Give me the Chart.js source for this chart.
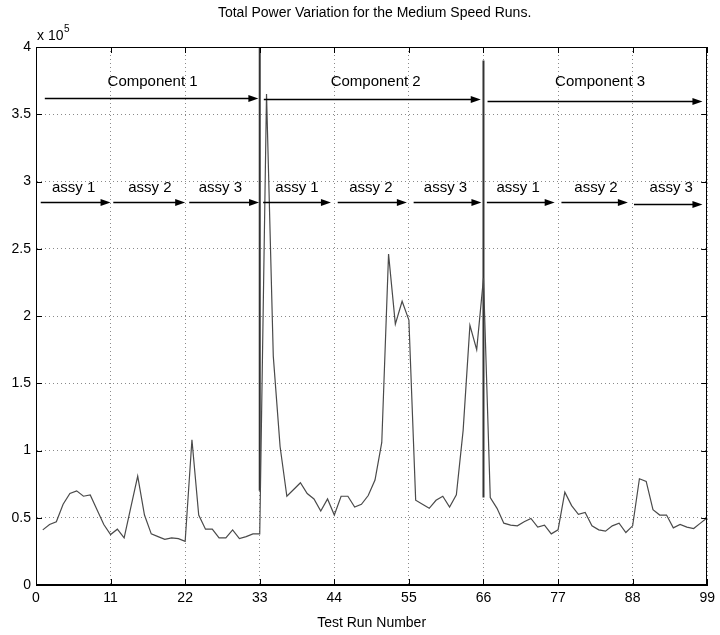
<!DOCTYPE html>
<html>
<head>
<meta charset="utf-8">
<title>Total Power Variation</title>
<script src="https://cdn.jsdelivr.net/npm/chart.js@4.4.1/dist/chart.umd.min.js"></script>
<style>
  html, body { margin: 0; padding: 0; background: #fff; }
</style>
</head>
<body>
<canvas id="powerChart" width="720" height="635"></canvas>
<script>
// total power for runs 1..99, in units of 10^5
const totalPower = [
  0.41, 0.45, 0.47, 0.60, 0.68, 0.70, 0.66, 0.67, 0.56, 0.45,
  0.375, 0.415, 0.35, 0.58, 0.81, 0.52, 0.38, 0.36, 0.34, 0.35,
  0.345, 0.325, 1.08, 0.52, 0.415, 0.415, 0.35, 0.35, 0.41, 0.345,
  0.36, 0.38, 0.38, 3.65, 1.70, 1.03, 0.66, 0.71, 0.76, 0.68,
  0.64, 0.55, 0.64, 0.52, 0.66, 0.66, 0.58, 0.60, 0.665, 0.78,
  1.06, 2.46, 1.94, 2.11, 1.97, 0.63, 0.60, 0.57, 0.63, 0.66,
  0.58, 0.67, 1.15, 1.93, 1.75, 2.28, 0.65, 0.57, 0.46, 0.445,
  0.44, 0.47, 0.495, 0.43, 0.445, 0.38, 0.41, 0.69, 0.59, 0.525,
  0.54, 0.44, 0.41, 0.40, 0.44, 0.46, 0.39, 0.44, 0.79, 0.77,
  0.56, 0.52, 0.52, 0.425, 0.45, 0.43, 0.42, 0.46, 0.50
];

const xTicks = [0, 11, 22, 33, 44, 55, 66, 77, 88, 99];
const yTicks = [0, 0.5, 1, 1.5, 2, 2.5, 3, 3.5, 4];

// vertical component separators
const separatorRuns = [33, 66];
const separatorLow = [0.7, 0.65];
const separatorHigh = [4.0, 3.9];

// component arrows
const componentLabels = ['Component 1', 'Component 2', 'Component 3'];
const componentStart = [1.3, 33.6, 66.6];
const componentEnd = [32.8, 65.6, 98.3];
const componentArrowY = [3.62, 3.61, 3.60];
const componentLabelX = [17.2, 50.1, 83.2];
const componentLabelY = 3.74;

// assembly arrows
const assyLabels = ['assy 1', 'assy 2', 'assy 3', 'assy 1', 'assy 2', 'assy 3', 'assy 1', 'assy 2', 'assy 3'];
const assyStart = [0.7, 11.4, 22.6, 33.5, 44.5, 55.7, 66.5, 77.5, 88.2];
const assyEnd = [11.0, 22.0, 32.9, 43.5, 54.7, 65.7, 76.5, 87.3, 98.3];
const assyArrowY = [2.85, 2.85, 2.85, 2.85, 2.85, 2.85, 2.85, 2.85, 2.83];
const assyLabelX = [5.55, 16.8, 27.2, 38.5, 49.4, 60.4, 71.1, 82.6, 93.7];
const assyLabelY = 2.95;

const FONT = '"Liberation Sans", Arial, Helvetica, sans-serif';

const datasets = [{
  data: totalPower.map((v, i) => ({ x: i + 1, y: v })),
  borderColor: '#4a4a4a',
  borderWidth: 1.2,
  pointRadius: 0,
  tension: 0
}];
separatorRuns.forEach((run, i) => {
  datasets.push({
    data: [{ x: run, y: separatorLow[i] }, { x: run, y: separatorHigh[i] }],
    borderColor: '#333',
    borderWidth: 2,
    pointRadius: 0
  });
});

// arrows, annotation text, box, inward ticks, title
const decorations = {
  id: 'decorations',
  afterDatasetsDraw(chart) {
    const ctx = chart.ctx;
    const xs = chart.scales.x, ys = chart.scales.y;
    const area = chart.chartArea;

    function arrow(x0, x1, y) {
      const px0 = xs.getPixelForValue(x0);
      const px1 = xs.getPixelForValue(x1);
      const py = Math.round(ys.getPixelForValue(y)) + 0.5;
      ctx.strokeStyle = '#000';
      ctx.fillStyle = '#000';
      ctx.lineWidth = 1.3;
      ctx.beginPath();
      ctx.moveTo(px0, py);
      ctx.lineTo(px1 - 8, py);
      ctx.stroke();
      ctx.beginPath();
      ctx.moveTo(px1, py);
      ctx.lineTo(px1 - 10, py - 3.5);
      ctx.lineTo(px1 - 10, py + 3.5);
      ctx.closePath();
      ctx.fill();
    }

    ctx.save();
    ctx.font = '15px ' + FONT;
    ctx.textAlign = 'center';
    ctx.textBaseline = 'middle';

    componentLabels.forEach((lbl, i) => {
      arrow(componentStart[i], componentEnd[i], componentArrowY[i]);
      ctx.fillStyle = '#000';
      ctx.fillText(lbl, xs.getPixelForValue(componentLabelX[i]), ys.getPixelForValue(componentLabelY));
    });
    assyLabels.forEach((lbl, i) => {
      arrow(assyStart[i], assyEnd[i], assyArrowY[i]);
      ctx.fillStyle = '#000';
      ctx.fillText(lbl, xs.getPixelForValue(assyLabelX[i]), ys.getPixelForValue(assyLabelY));
    });

    // axes box
    ctx.strokeStyle = '#000';
    ctx.lineWidth = 1;
    ctx.strokeRect(Math.round(area.left) + 0.5, Math.round(area.top) + 0.5,
      Math.round(area.right - area.left) - 1, Math.round(area.bottom - area.top) - 1);

    // inward ticks
    ctx.beginPath();
    xTicks.forEach(v => {
      const px = Math.round(xs.getPixelForValue(v)) + 0.5;
      ctx.moveTo(px, area.bottom); ctx.lineTo(px, area.bottom - 6);
      ctx.moveTo(px, area.top); ctx.lineTo(px, area.top + 6);
    });
    yTicks.forEach(v => {
      const py = Math.round(ys.getPixelForValue(v)) + 0.5;
      ctx.moveTo(area.left, py); ctx.lineTo(area.left + 6, py);
      ctx.moveTo(area.right, py); ctx.lineTo(area.right - 6, py);
    });
    ctx.stroke();

    // title, exponent and x label
    ctx.fillStyle = '#000';
    ctx.font = '14px ' + FONT;
    ctx.fillText('Total Power Variation for the Medium Speed Runs.', (area.left + area.right) / 2 + 3, 13);
    ctx.fillText('Test Run Number', (area.left + area.right) / 2, 623);
    ctx.textAlign = 'left';
    ctx.fillText('x 10', 37, 36);
    ctx.font = '10px ' + FONT;
    ctx.fillText('5', 64, 29);
    ctx.restore();
  }
};

const ctx = document.getElementById('powerChart');
new Chart(ctx, {
  type: 'line',
  data: { datasets: datasets },
  options: {
    responsive: false,
    animation: false,
    devicePixelRatio: 1,
    layout: { padding: { top: 47, right: 6, left: 0, bottom: 0 } },
    plugins: {
      legend: { display: false },
      title: { display: false },
      tooltip: { enabled: false }
    },
    scales: {
      x: {
        type: 'linear',
        min: 0,
        max: 99,
        afterBuildTicks: s => { s.ticks = xTicks.map(v => ({ value: v })); },
        afterFit: s => { s.height = 50; },
        grid: { color: '#8a8a8a', lineWidth: 1, drawTicks: false },
        border: { display: true, color: '#000', dash: [1, 3] },
        ticks: {
          padding: 5,
          color: '#000',
          maxRotation: 0,
          autoSkip: false,
          font: { family: FONT, size: 14 }
        }
      },
      y: {
        type: 'linear',
        min: 0,
        max: 4,
        afterBuildTicks: s => { s.ticks = yTicks.map(v => ({ value: v })); },
        afterFit: s => { s.width = 36; },
        grid: { color: '#8a8a8a', lineWidth: 1, drawTicks: false },
        border: { display: true, color: '#000', dash: [1, 3] },
        ticks: {
          padding: 5,
          color: '#000',
          font: { family: FONT, size: 14 },
          callback: v => String(v)
        }
      }
    }
  },
  plugins: [decorations]
});
</script>
</body>
</html>
